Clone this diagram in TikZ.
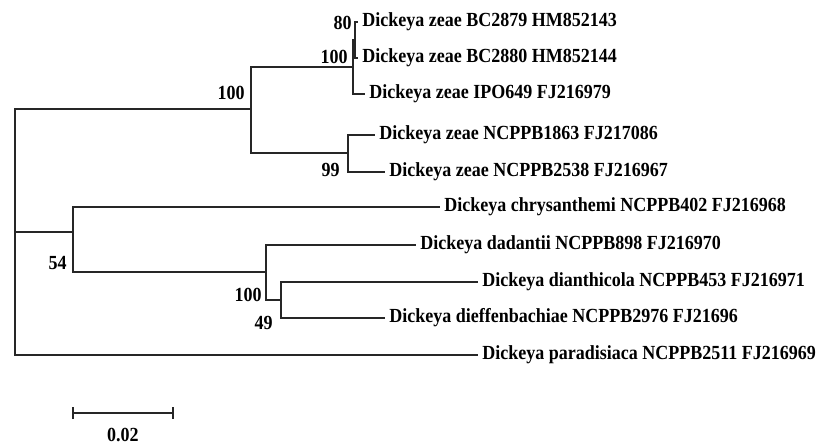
\documentclass[tikz,border=0pt]{standalone}
\usepackage{fontspec}
\setmainfont{Liberation Serif}[FakeStretch=0.9]
\usetikzlibrary{arrows.meta}

\begin{document}
\begin{tikzpicture}[
  x=0.5pt, y=-0.5pt,
  branch/.style={draw=black!85, line width=0.9pt},
  leaf/.style={anchor=west, inner xsep=2pt, inner ysep=0pt, font=\bfseries},
  boot/.style={anchor=east, inner sep=0.5pt, font=\bfseries}
]
\useasboundingbox (0,0) rectangle (821,445);
\coordinate (root) at (15,232);
\coordinate (zeae) at (251,109);
\coordinate (za) at (353,67);
\coordinate (zb) at (355,40);
\coordinate (z99) at (348,153);
\coordinate (n54) at (73,232);
\coordinate (dad) at (266,272);
\coordinate (n49) at (281,300);
\node[leaf] (bc2879) at (358,22) {Dickeya zeae BC2879 HM852143};
\node[leaf] (bc2880) at (358,58) {Dickeya zeae BC2880 HM852144};
\node[leaf] (ipo) at (365,94) {Dickeya zeae IPO649 FJ216979};
\node[leaf] (nc1863) at (375,135) {Dickeya zeae NCPPB1863 FJ217086};
\node[leaf] (nc2538) at (385,172) {Dickeya zeae NCPPB2538 FJ216967};
\node[leaf] (chrys) at (440,207) {Dickeya chrysanthemi NCPPB402 FJ216968};
\node[leaf] (dadan) at (416,245) {Dickeya dadantii NCPPB898 FJ216970};
\node[leaf] (dianth) at (478,282) {Dickeya dianthicola NCPPB453 FJ216971};
\node[leaf] (dieff) at (385,318) {Dickeya dieffenbachiae NCPPB2976 FJ21696};
\node[leaf] (para) at (478,355) {Dickeya paradisiaca NCPPB2511 FJ216969};
\draw[branch] (root) |- (zeae);
\draw[branch] (root) -- (n54);
\draw[branch] (root) |- (para.west);
\draw[branch] (zeae) |- (za);
\draw[branch] (zeae) |- (z99);
\draw[branch] (za) |- (zb);
\draw[branch] (za) |- (ipo.west);
\draw[branch] (zb) |- (bc2879.west);
\draw[branch] (zb) |- (bc2880.west);
\draw[branch] (z99) |- (nc1863.west);
\draw[branch] (z99) |- (nc2538.west);
\draw[branch] (n54) |- (chrys.west);
\draw[branch] (n54) |- (dad);
\draw[branch] (dad) |- (dadan.west);
\draw[branch] (dad) |- (n49);
\draw[branch] (n49) |- (dianth.west);
\draw[branch] (n49) |- (dieff.west);
\node[boot] (b80) at (353,23) {80};
\node[boot] (b100a) at (349,57) {100};
\node[boot] (b100b) at (246,93) {100};
\node[boot] (b99) at (341,170) {99};
\node[boot] (b54) at (68,263) {54};
\node[boot] (b100c) at (263,295) {100};
\node[boot] (b49) at (274,323) {49};
\coordinate (sb1) at (72,413);
\coordinate (sb2) at (174,413);
\draw[branch, {Bar[width=6pt]}-{Bar[width=6pt]}] (sb1) -- (sb2);
\node[font=\bfseries] (sblab) at (123,435) {0.02};
\end{tikzpicture}
\end{document}
